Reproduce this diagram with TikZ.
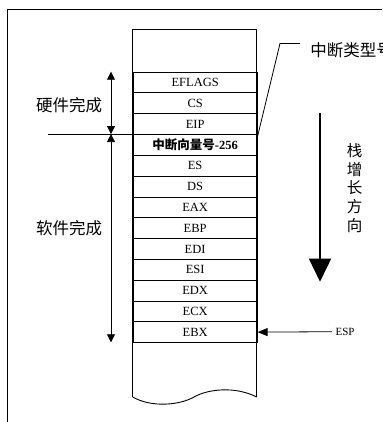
\documentclass[tikz,border=0pt]{standalone}
\usepackage{fontspec}
\setmainfont{Liberation Serif}
\newfontfamily\cjk{Noto Sans CJK SC}
\usetikzlibrary{arrows.meta}
\begin{document}
\begin{tikzpicture}[x=1pt,y=-1pt,line width=0.8pt,
  cell/.style={draw,line width=0.9pt,minimum width=124pt,minimum height=20.8pt,
    inner sep=0pt,anchor=north west,font=\fontsize{12.5}{14}\selectfont},
  lbl/.style={inner sep=0pt,font=\cjk\fontsize{16.5}{18}\selectfont},
  dbl/.style={{Triangle[length=8pt,width=8pt]}-{Triangle[length=8pt,width=8pt]}},
  esptip/.style={-{Triangle[length=10pt,width=8pt]}},
  bigtip/.style={line width=1.6pt,-{Triangle[length=23pt,width=22pt]}}]
\useasboundingbox (0,0) rectangle (382,422);
% frame
\draw (382,9.3) -- (7.3,9.3) -- (7.3,422);
% stack outline
\draw[line width=0.9pt] (132.7,397) -- (132.7,29.3) -- (256.7,29.3) -- (256.7,397);
\draw[line width=0.9pt] (132.7,397) .. controls (152,408) and (180,405) .. (194,397)
  .. controls (208,389) and (235,386) .. (256.7,397);
% rows
\foreach \t [count=\i from 0] in {EFLAGS,CS,EIP,{{\cjk\bfseries 中断向量号}\bfseries -256},ES,DS,EAX,EBP,EDI,ESI,EDX,ECX,EBX}
  \node[cell] (r\i) at (132.7,71.7+20.8*\i) {\t};
% split line
\coordinate (hl) at (48.3,134.1);
\draw (hl) -- (r3.north west);
% hardware/software arrows
\coordinate (a1) at (111,71.7);
\coordinate (a2) at (111,134.1);
\coordinate (a3) at (111,342.3);
\draw[dbl] (a2) -- (a1);
\draw[dbl] (a2) -- (a3);
\node[lbl] (hw) at (69,105) {硬件完成};
\node[lbl] (sw) at (69,228) {软件完成};
% growth direction
\coordinate (g1) at (320,112.7);
\coordinate (g2) at (320,281.7);
\draw[bigtip] (g1) -- (g2);
\node[lbl,align=center,font=\cjk\fontsize{15.5}{18.6}\selectfont] (dir) at (354.5,188) {栈\\增\\长\\方\\向};
% ESP
\node[font=\fontsize{11}{12}\selectfont] (esp) at (345,331.7) {ESP};
\draw[esptip] (esp.west) -- (r12.east);
% interrupt type leader
\node[lbl,anchor=west] (typ) at (310,50) {中断类型号};
\coordinate (ld1) at (300,43.5);
\coordinate (ld2) at (280,43.5);
\coordinate (ld3) at (256.7,140);
\draw (ld1) -- (ld2) -- (ld3);
\end{tikzpicture}
\end{document}
